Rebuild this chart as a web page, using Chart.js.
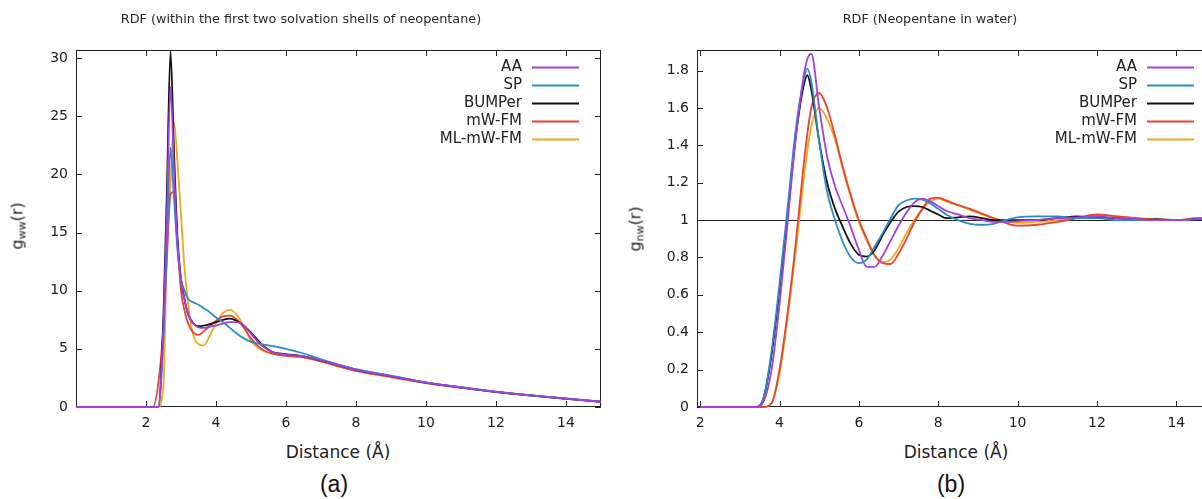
<!DOCTYPE html>
<html>
<head>
<meta charset="utf-8">
<script src="https://cdn.jsdelivr.net/npm/chart.js@4/dist/chart.umd.min.js"></script>
<style>
  body { margin: 0; width: 1202px; height: 499px; overflow: hidden; background: #fff; position: relative; font-family: 'DejaVu Sans', sans-serif; color: #222; }
  .box { position: absolute; top: 0; width: 610px; height: 430px; }
  .lbl { position: absolute; white-space: nowrap; transform: translate(-50%, -50%); }
  .title { font-size: 12.8px; color: #2a2a2a; }
  .ylab { font-size: 16px; color: #1a1a1a; transform: translate(-50%, -50%) rotate(-90deg); }
  .ylab sub { font-size: 11px; vertical-align: -3px; }
  .xlab { font-size: 17px; }
  .cap { font-family: 'Liberation Sans', sans-serif; font-size: 23px; color: #111; }
</style>
</head>
<body>
<div class="box" style="left:0"><canvas id="wwChart" width="610" height="430"></canvas></div>
<div class="box" style="left:620px"><canvas id="nwChart" width="610" height="430"></canvas></div>

<div class="lbl title" style="left:301px;top:18px">RDF (within the first two solvation shells of neopentane)</div>
<div class="lbl title" style="left:930px;top:18px">RDF (Neopentane in water)</div>
<div class="lbl ylab" style="left:18px;top:226px">g<sub>ww</sub>(r)</div>
<div class="lbl ylab" style="left:636px;top:229px">g<sub>nw</sub>(r)</div>
<div class="lbl xlab" style="left:338px;top:452px">Distance (Å)</div>
<div class="lbl xlab" style="left:956px;top:452px">Distance (Å)</div>
<div class="lbl cap" style="left:334px;top:484px">(a)</div>
<div class="lbl cap" style="left:951px;top:484px">(b)</div>

<script>
// series names and colours (same for both panels)
const seriesNames = ['AA', 'SP', 'BUMPer', 'mW-FM', 'ML-mW-FM'];
const seriesColors = ['#a33fe0', '#2b8cc4', '#111111', '#e8432e', '#f0a81e'];

// (a) water-water RDF, distance in Å
const wwDist = [0, 2.2, 2.35, 2.5, 2.6, 2.7, 2.8, 2.9, 3.0, 3.1, 3.2, 3.35, 3.5, 3.65, 3.8, 4.0, 4.2, 4.4, 4.6, 4.8, 5.0, 5.3, 5.6, 6.0, 6.5, 7.0, 7.5, 8, 9, 10, 11, 12, 13, 14, 15];
const wwAA     = [0, 0, 0, 7, 17, 27.5, 20.5, 14, 10.8, 9.2, 8.0, 7.2, 6.85, 6.8, 6.9, 7.0, 7.2, 7.3, 7.3, 7.0, 6.3, 5.3, 4.75, 4.5, 4.35, 4.0, 3.6, 3.2, 2.65, 2.1, 1.68, 1.3, 1.0, 0.72, 0.45];
const wwSP     = [0, 0, 0, 6, 14, 22.3, 18, 13.5, 11, 10, 9.3, 9.0, 8.8, 8.5, 8.2, 7.7, 7.3, 6.8, 6.3, 5.9, 5.6, 5.4, 5.25, 5.0, 4.6, 4.1, 3.65, 3.25, 2.7, 2.12, 1.7, 1.32, 1.0, 0.73, 0.46];
const wwBUMPer = [0, 0, 0, 8, 19, 30.6, 22, 14.5, 11, 9.3, 8.0, 7.2, 6.95, 7.0, 7.1, 7.3, 7.5, 7.6, 7.4, 7.0, 6.4, 5.4, 4.75, 4.55, 4.35, 4.0, 3.6, 3.2, 2.65, 2.1, 1.68, 1.3, 1.0, 0.72, 0.45];
const wwMWFM   = [0, 0, 2, 7, 13, 18.3, 18.5, 14, 10, 8.3, 7.2, 6.4, 6.2, 6.5, 6.9, 7.4, 7.8, 7.85, 7.5, 6.8, 5.9, 5.0, 4.6, 4.4, 4.3, 3.95, 3.5, 3.1, 2.6, 2.05, 1.65, 1.28, 0.98, 0.7, 0.44];
const wwMLMWFM = [0, 0, 0, 2, 14, 19, 24.5, 21, 16.5, 12, 9, 6.2, 5.4, 5.3, 6.0, 7.2, 8.1, 8.35, 7.9, 6.9, 5.7, 4.9, 4.6, 4.4, 4.25, 3.9, 3.5, 3.1, 2.55, 2.05, 1.65, 1.28, 0.98, 0.7, 0.44];

// (b) neopentane-water RDF
const nwDist = [2, 3.4, 3.6, 3.8, 4.0, 4.2, 4.4, 4.6, 4.7, 4.8, 5.0, 5.2, 5.4, 5.6, 5.8, 6.0, 6.2, 6.4, 6.6, 6.8, 7.0, 7.2, 7.4, 7.6, 7.8, 8.0, 8.2, 8.5, 8.8, 9.1, 9.4, 9.7, 10, 10.5, 11, 11.5, 12, 12.5, 13, 13.5, 14, 14.5, 15];
const nwAA     = [0, 0, 0.03, 0.2, 0.55, 0.98, 1.42, 1.76, 1.86, 1.89, 1.6, 1.34, 1.18, 1.07, 0.96, 0.84, 0.75, 0.75, 0.81, 0.89, 0.97, 1.04, 1.095, 1.115, 1.1, 1.075, 1.05, 1.03, 1.01, 1.0, 0.99, 0.99, 0.995, 1.0, 1.01, 1.015, 1.02, 1.01, 1.005, 1.0, 1.0, 1.005, 1.01];
const nwSP     = [0, 0, 0.05, 0.3, 0.66, 1.06, 1.47, 1.74, 1.81, 1.74, 1.42, 1.15, 1.0, 0.88, 0.8, 0.77, 0.79, 0.86, 0.93, 1.01, 1.08, 1.105, 1.115, 1.11, 1.09, 1.06, 1.03, 1.0, 0.98, 0.975, 0.98, 1.0, 1.015, 1.02, 1.02, 1.01, 1.01, 1.0, 1.0, 1.0, 1.0, 1.005, 1.01];
const nwBUMPer = [0, 0, 0.05, 0.28, 0.63, 1.02, 1.43, 1.71, 1.775, 1.7, 1.42, 1.2, 1.06, 0.96, 0.87, 0.815, 0.805, 0.84, 0.92, 0.99, 1.045, 1.07, 1.075, 1.07, 1.05, 1.03, 1.01, 1.015, 1.02, 1.01, 1.0, 1.0, 1.0, 1.0, 1.01, 1.02, 1.015, 1.01, 1.0, 1.005, 1.0, 1.005, 1.01];
const nwMWFM   = [0, 0, 0, 0.02, 0.2, 0.5, 0.86, 1.28, 1.46, 1.6, 1.68, 1.6, 1.45, 1.28, 1.13, 1.0, 0.9, 0.81, 0.77, 0.765, 0.82, 0.9, 0.99, 1.06, 1.115, 1.12, 1.105, 1.08, 1.06, 1.035, 1.01, 0.985, 0.97, 0.975, 0.99, 1.01, 1.03, 1.02, 1.01, 1.0, 1.0, 1.01, 1.015];
const nwMLMWFM = [0, 0, 0, 0.02, 0.18, 0.47, 0.82, 1.2, 1.37, 1.5, 1.6, 1.54, 1.43, 1.27, 1.12, 0.99, 0.89, 0.81, 0.775, 0.79, 0.85, 0.93, 1.0, 1.06, 1.1, 1.115, 1.1, 1.08, 1.055, 1.03, 1.01, 0.995, 0.985, 0.99, 1.0, 1.01, 1.025, 1.02, 1.01, 1.005, 1.0, 1.01, 1.015];

Chart.defaults.font.family = "'DejaVu Sans', sans-serif";
Chart.defaults.font.size = 14;
Chart.defaults.color = '#222';

function makeDatasets(dist, seriesList) {
  return seriesList.map((vals, i) => ({
    label: seriesNames[i],
    data: dist.map((d, k) => ({ x: d, y: vals[k] })),
    borderColor: seriesColors[i],
    backgroundColor: seriesColors[i],
    borderWidth: 1.8,
    pointRadius: 0,
    cubicInterpolationMode: 'monotone',
    clip: { left: 0, top: 0, right: 0, bottom: 3 },  // keep the g=0 baseline visible
    fill: false
  }));
}

// gnuplot-like box with inward ticks, optional y=1 line, legend with text left of line
const gnuplotFrame = {
  id: 'gnuplotFrame',
  beforeDatasetsDraw(chart, args, opts) {
    if (opts.refLine === undefined) return;
    const { ctx, chartArea: a, scales } = chart;
    const py = Math.round(scales.y.getPixelForValue(opts.refLine)) + 0.5;
    ctx.save();
    ctx.strokeStyle = '#222';
    ctx.lineWidth = 1;
    ctx.beginPath();
    ctx.moveTo(a.left, py);
    ctx.lineTo(a.right, py);
    ctx.stroke();
    ctx.restore();
  },
  beforeDraw(chart) {
    // frame under the curves so the zero baseline of the data stays on top
    const { ctx, chartArea: a, scales } = chart;
    ctx.save();
    ctx.strokeStyle = '#222';
    ctx.lineWidth = 1;
    ctx.strokeRect(Math.round(a.left) + 0.5, Math.round(a.top) + 0.5, Math.round(a.width) - 1, Math.round(a.height) - 1);
    ctx.beginPath();
    scales.x.ticks.forEach(t => {
      const px = Math.round(scales.x.getPixelForValue(t.value)) + 0.5;
      ctx.moveTo(px, a.bottom); ctx.lineTo(px, a.bottom - 6);
      ctx.moveTo(px, a.top); ctx.lineTo(px, a.top + 6);
    });
    scales.y.ticks.forEach(t => {
      const py = Math.round(scales.y.getPixelForValue(t.value)) + 0.5;
      ctx.moveTo(a.left, py); ctx.lineTo(a.left + 6, py);
      ctx.moveTo(a.right, py); ctx.lineTo(a.right - 6, py);
    });
    ctx.stroke();
    ctx.restore();
  },
  afterDatasetsDraw(chart) {
    const { ctx, chartArea: a } = chart;
    ctx.save();
    // legend
    ctx.font = "15px 'DejaVu Sans'";
    ctx.textAlign = 'right';
    ctx.textBaseline = 'middle';
    chart.data.datasets.forEach((ds, i) => {
      const y = a.top + 17.5 + i * 18;
      const x1 = a.right - 22, x0 = x1 - 47;
      ctx.fillStyle = '#222';
      ctx.fillText(ds.label, x0 - 10, y);
      ctx.strokeStyle = ds.borderColor;
      ctx.lineWidth = 1.8;
      ctx.beginPath();
      ctx.moveTo(x0, y); ctx.lineTo(x1, y);
      ctx.stroke();
    });
    ctx.restore();
  }
};

function makeChart(id, datasets, xOpts, yOpts, pad, yWidth, pluginOpts) {
  return new Chart(document.getElementById(id), {
    type: 'line',
    data: { datasets: datasets },
    plugins: [gnuplotFrame],
    options: {
      responsive: false,
      animation: false,
      layout: { padding: pad },
      plugins: { legend: { display: false }, tooltip: { enabled: false }, gnuplotFrame: pluginOpts },
      scales: {
        x: Object.assign({
          type: 'linear',
          grid: { display: false, drawTicks: false },
          border: { display: false },
          afterFit: s => { s.height = 23; }
        }, xOpts),
        y: Object.assign({
          type: 'linear',
          grid: { display: false, drawTicks: false },
          border: { display: false },
          afterFit: s => { s.width = yWidth; }
        }, yOpts)
      }
    }
  });
}

makeChart('wwChart',
  makeDatasets(wwDist, [wwAA, wwSP, wwBUMPer, wwMWFM, wwMLMWFM]),
  { min: 0, max: 15, ticks: { stepSize: 2, includeBounds: false, padding: 8, maxRotation: 0, callback: v => v === 0 ? '' : v } },
  { min: 0, max: 30.7, ticks: { stepSize: 5, includeBounds: false, padding: 8 } },
  { top: 50, right: 9, left: 0, bottom: 0 }, 76, {});

makeChart('nwChart',
  makeDatasets(nwDist, [nwAA, nwSP, nwBUMPer, nwMWFM, nwMLMWFM]),
  { min: 1.92, max: 15, ticks: { stepSize: 2, includeBounds: false, padding: 8, maxRotation: 0 } },
  { min: 0, max: 1.91, ticks: { stepSize: 0.2, includeBounds: false, padding: 8, callback: v => String(+v.toFixed(1)) } },
  { top: 50, right: 14, left: 0, bottom: 0 }, 77, { refLine: 1 });
</script>
</body>
</html>
